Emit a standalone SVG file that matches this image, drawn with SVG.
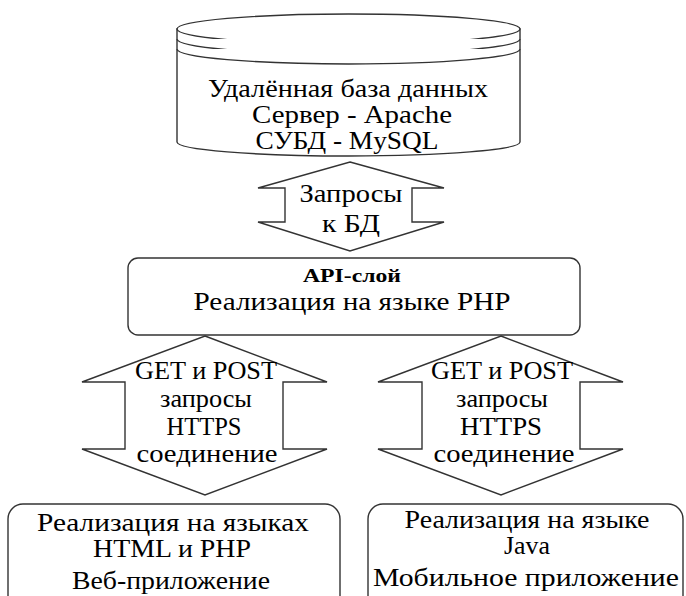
<svg xmlns="http://www.w3.org/2000/svg" width="686" height="596" viewBox="0 0 686 596">
<style>
.s{fill:#fff;stroke:#333;stroke-width:1.4}
.t{font-family:"Liberation Serif","Times New Roman",serif;font-size:25px;fill:#000;text-anchor:middle}
.b{font-weight:bold;font-size:19px}
</style>
<rect width="686" height="596" fill="#fff"/>
<g id="db">
<path class="s" d="M177,29 L177,142 A171.5,14 0 0,0 520,142 L520,29 Z"/>
<ellipse class="s" cx="348.5" cy="29" rx="171.5" ry="15"/>
<path class="s" fill="none" d="M177,39 A171.5,15 0 0,0 520,39"/>
<path class="s" fill="none" d="M177,49 A171.5,15 0 0,0 520,49"/>
<text class="t" x="348" y="97" textLength="280" lengthAdjust="spacingAndGlyphs">Удалённая база данных</text>
<text class="t" x="352" y="123" textLength="200" lengthAdjust="spacingAndGlyphs">Сервер - Apache</text>
<text class="t" x="347" y="149" textLength="183" lengthAdjust="spacingAndGlyphs">СУБД - MySQL</text>
</g>
<g id="connectors">
<g id="arrow-db">
<polygon class="s" points="350,162 444,188 412,188 412,222 444,222 350,251 258,222 285,222 285,188 258,188"/>
<text class="t" x="351" y="202" textLength="103" lengthAdjust="spacingAndGlyphs">Запросы</text>
<text class="t" x="351" y="232" textLength="58" lengthAdjust="spacingAndGlyphs">к БД</text>
</g>
<g id="arrow-web">
<polygon class="s" points="205,336 327,382 283,382 283,449 327,449 205,495 82,449 125,449 125,382 82,382"/>
<text class="t" x="206" y="379" textLength="142" lengthAdjust="spacingAndGlyphs">GET и POST</text>
<text class="t" x="206" y="407" textLength="92" lengthAdjust="spacingAndGlyphs">запросы</text>
<text class="t" x="204" y="435" textLength="75" lengthAdjust="spacingAndGlyphs">HTTPS</text>
<text class="t" x="207" y="462" textLength="141" lengthAdjust="spacingAndGlyphs">соединение</text>
</g>
<g id="arrow-mobile">
<polygon class="s" points="501,336 623,382 580,382 580,449 623,449 501,495 378,449 422,449 422,382 378,382"/>
<text class="t" x="502" y="379" textLength="142" lengthAdjust="spacingAndGlyphs">GET и POST</text>
<text class="t" x="502" y="407" textLength="92" lengthAdjust="spacingAndGlyphs">запросы</text>
<text class="t" x="501" y="435" textLength="82" lengthAdjust="spacingAndGlyphs">HTTPS</text>
<text class="t" x="504" y="462" textLength="141" lengthAdjust="spacingAndGlyphs">соединение</text>
</g>
</g>
<g id="api">
<rect class="s" x="128" y="258" width="452" height="77" rx="10"/>
<text class="t b" x="352" y="282" textLength="98" lengthAdjust="spacingAndGlyphs">API-слой</text>
<text class="t" x="352" y="310" textLength="317" lengthAdjust="spacingAndGlyphs">Реализация на языке PHP</text>
</g>
<g id="web">
<rect class="s" x="8" y="504" width="332" height="110" rx="15"/>
<text class="t" x="173" y="531" textLength="272" lengthAdjust="spacingAndGlyphs">Реализация на языках</text>
<text class="t" x="172" y="557" textLength="158" lengthAdjust="spacingAndGlyphs">HTML и PHP</text>
<text class="t" x="171" y="589" textLength="198" lengthAdjust="spacingAndGlyphs">Веб-приложение</text>
</g>
<g id="mobile">
<rect class="s" x="368" y="504" width="315" height="110" rx="15"/>
<text class="t" x="527" y="528" textLength="245" lengthAdjust="spacingAndGlyphs">Реализация на языке</text>
<text class="t" x="527" y="554" textLength="46" lengthAdjust="spacingAndGlyphs">Java</text>
<text class="t" x="526" y="586" textLength="306" lengthAdjust="spacingAndGlyphs">Мобильное приложение</text>
</g>
</svg>
